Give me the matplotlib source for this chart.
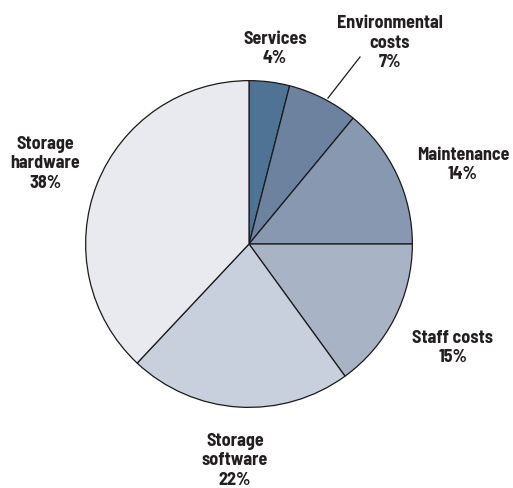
import matplotlib
matplotlib.use('agg')
from matplotlib import pyplot as plt

W, H = 513, 489

labels = ["Services", "Environmental\ncosts", "Maintenance", "Staff costs",
          "Storage\nsoftware", "Storage\nhardware"]
shares = [4, 7, 14, 15, 22, 38]
colors = ["#4f7394", "#6c829f", "#8898b0", "#a9b3c6", "#c9d0dd", "#e9eaf0"]

# label centres in pixels (x, y from top)
label_pos = [(275, 49), (390, 43), (463, 165), (453, 348), (235, 461), (45, 164)]

plt.rcParams['font.family'] = ['Barlow Semi Condensed', 'Asap Condensed', 'DejaVu Sans']

fig = plt.figure(figsize=(W / 100, H / 100), dpi=100)
# pie centre (249,245), radius 165 px
ax = fig.add_axes([(249 - 165) / W, (H - 245 - 165) / H, 330 / W, 330 / H])
ax.pie(shares, colors=colors, startangle=90, counterclock=False, radius=1,
       wedgeprops=dict(edgecolor="#1a1a1a", linewidth=0.9))
ax.set_xlim(-1.01, 1.01)
ax.set_ylim(-1.01, 1.01)
ax.set_aspect('equal')
ax.axis('off')

for lab, s, (px, py) in zip(labels, shares, label_pos):
    fig.text(px / W, 1 - py / H, lab + "\n" + str(s) + "%", ha='center', va='center',
             fontsize=13, fontweight='bold', color="#231f20", linespacing=1.22)

# leader line for environmental costs
fig.add_artist(plt.Line2D([360 / W, 328 / W], [1 - 58 / H, 1 - 99 / H],
                          color="#1a1a1a", linewidth=0.9))

fig.savefig("out.png", dpi=100)
